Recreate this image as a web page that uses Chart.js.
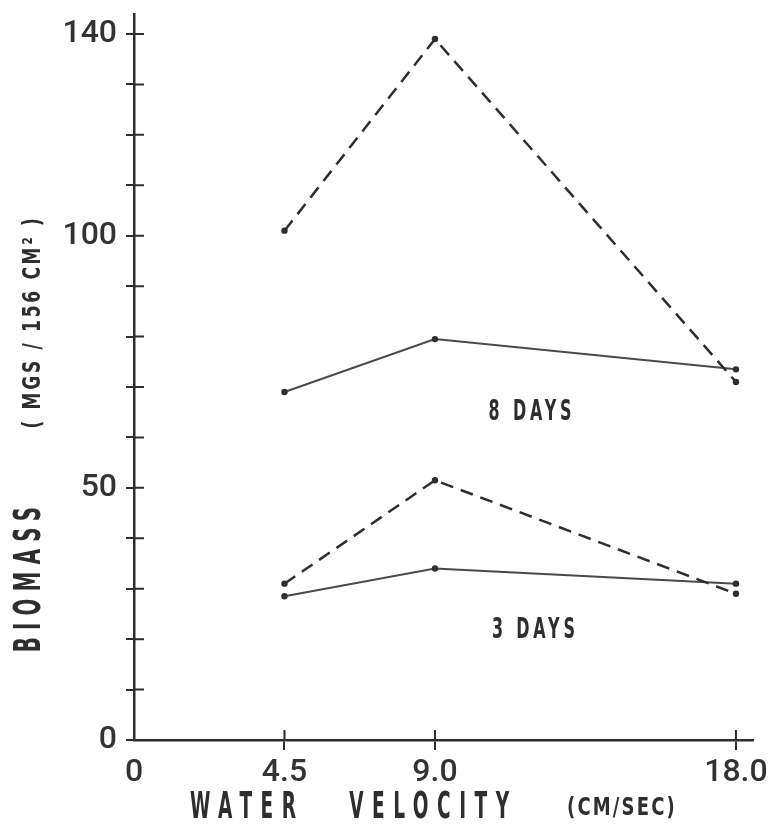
<!DOCTYPE html>
<html><head><meta charset="utf-8">
<script src="https://cdn.jsdelivr.net/npm/chart.js@4.4.0/dist/chart.umd.min.js"></script>
<style>html,body{margin:0;padding:0;background:#fff;}#wrap{width:772px;height:832px;}</style>
</head><body><div id="wrap"><canvas id="c" width="772" height="832"></canvas></div>
<script>
// ---- data ----
const xValues = [4.5, 9.0, 18.0];
const xTickValues = [0, 4.5, 9.0, 18.0];
const xTickLabels = ['0', '4.5', '9.0', '18.0'];
const yTickValues = [0, 10, 20, 30, 40, 50, 60, 70, 80, 90, 100, 110, 120, 130, 140];
const yLabelValues = [0, 50, 100, 140];
const eightDayDashed = [101, 139, 71];
const eightDaySolid = [69, 79.5, 73.5];
const threeDayDashed = [31, 51.5, 29];
const threeDaySolid = [28.5, 34, 31];
const seriesNames = ['8 DAYS', '3 DAYS'];
const xTitleMain = 'WATER   VELOCITY';
const xTitleUnit = '(CM/SEC)';
const yTitleMain = 'BIOMASS';
const yTitleUnit = '( MGS / 156 CM\u00B2 )';

const INK = '#2e2e2e';
const pts = arr => xValues.map((x, i) => ({x: x, y: arr[i]}));

function drawText(ctx, text, x, y, opt) {
  ctx.save();
  ctx.translate(x, y);
  if (opt.rotate) ctx.rotate(opt.rotate);
  ctx.scale(opt.sx || 1, 1);
  ctx.font = opt.font;
  ctx.fillStyle = opt.color || INK;
  ctx.textBaseline = 'middle';
  ctx.textAlign = opt.align || 'center';
  try { ctx.letterSpacing = (opt.spacing || 0) + 'px'; } catch (e) {}
  ctx.fillText(text, 0, 0);
  ctx.restore();
}

const decor = {
  id: 'decor',
  afterDraw(chart) {
    const {ctx, chartArea: a, scales: {x, y}} = chart;
    ctx.save();
    ctx.strokeStyle = INK;
    ctx.lineWidth = 2;
    ctx.beginPath();
    yTickValues.forEach(v => {
      if (v === 0) return;
      const py = y.getPixelForValue(v);
      ctx.moveTo(a.left, py); ctx.lineTo(a.left + 10, py);
    });
    xTickValues.forEach(v => {
      if (v === 0) return;
      const px = x.getPixelForValue(v);
      ctx.moveTo(px, a.bottom); ctx.lineTo(px, a.bottom - 10);
    });
    ctx.stroke();
    ctx.restore();

    const f = (w, s) => w + ' ' + s + 'px "DejaVu Sans", sans-serif';
    // series labels (placed in data units)
    drawText(ctx, seriesNames[0], x.getPixelForValue(11.9), y.getPixelForValue(65), {font: f('bold', 29), sx: 0.55, spacing: 7});
    drawText(ctx, seriesNames[1], x.getPixelForValue(12.0), y.getPixelForValue(21.8), {font: f('bold', 29), sx: 0.55, spacing: 7});
    // x title
    drawText(ctx, xTitleMain, 190, 808, {font: f('bold', 37), sx: 0.5, spacing: 17, align: 'left'});
    drawText(ctx, xTitleUnit, 567, 808, {font: f('bold', 25), sx: 0.72, spacing: 3, align: 'left'});
    // y title
    drawText(ctx, yTitleMain, 30, 576, {font: f('bold', 38), sx: 0.52, spacing: 14, rotate: -Math.PI / 2});
    drawText(ctx, yTitleUnit, 33, 322, {font: f('bold', 25), sx: 0.68, spacing: 4, rotate: -Math.PI / 2});
  }
};

const dashedStyle = {borderColor: INK, borderWidth: 2.5, borderDash: [13, 8], pointRadius: 3.2, pointBackgroundColor: INK, pointBorderWidth: 0, fill: false, tension: 0};
const solidStyle = {borderColor: '#4a4a4a', borderWidth: 2, pointRadius: 3.2, pointBackgroundColor: INK, pointBorderWidth: 0, fill: false, tension: 0};

new Chart(document.getElementById('c'), {
  type: 'line',
  data: {
    datasets: [
      Object.assign({label: '8 days (dashed)', data: pts(eightDayDashed)}, dashedStyle),
      Object.assign({label: '8 days (solid)', data: pts(eightDaySolid)}, solidStyle),
      Object.assign({label: '3 days (dashed)', data: pts(threeDayDashed)}, dashedStyle),
      Object.assign({label: '3 days (solid)', data: pts(threeDaySolid)}, solidStyle)
    ]
  },
  options: {
    responsive: false,
    animation: false,
    devicePixelRatio: 1,
    layout: {padding: {top: 12, right: 12, left: 0, bottom: 0}},
    plugins: {legend: {display: false}, tooltip: {enabled: false}},
    scales: {
      x: {
        type: 'linear', min: 0, max: 18.5,
        afterBuildTicks: s => { s.ticks = xTickValues.map(v => ({value: v})); },
        afterFit: s => { s.height = 92; },
        ticks: {
          autoSkip: false, maxRotation: 0, padding: 4,
          color: '#333', font: {family: 'Roboto, "DejaVu Sans", sans-serif', size: 32, weight: '500'},
          callback: v => { const i = xTickValues.indexOf(v); return i >= 0 ? xTickLabels[i] : ''; }
        },
        grid: {drawOnChartArea: false, drawTicks: true, tickLength: 10, lineWidth: 2,
               color: c => (c.tick && c.tick.value === 0) ? 'rgba(0,0,0,0)' : INK},
        border: {display: true, color: INK, width: 2.5}
      },
      y: {
        type: 'linear', min: 0, max: 144,
        afterBuildTicks: s => { s.ticks = yTickValues.map(v => ({value: v})); },
        afterFit: s => { s.width = 134; },
        ticks: {
          autoSkip: false, padding: 9,
          color: '#333', font: {family: 'Roboto, "DejaVu Sans", sans-serif', size: 32, weight: '500', lineHeight: 0.3},
          callback: v => yLabelValues.includes(v) ? String(v) : ''
        },
        grid: {drawOnChartArea: false, drawTicks: true, tickLength: 8, lineWidth: 2, color: INK},
        border: {display: true, color: INK, width: 2.5}
      }
    }
  },
  plugins: [decor]
});
</script></body></html>
